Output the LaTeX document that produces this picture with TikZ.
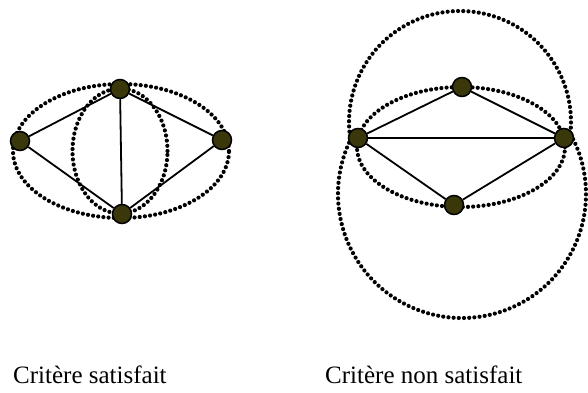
\documentclass[tikz,border=0pt]{standalone}
\usepackage{fontspec}
\setmainfont{Liberation Serif}
\usepackage{tikz}
\usetikzlibrary{positioning}
\definecolor{olivefonce}{RGB}{58,56,10}

\begin{document}
\begin{tikzpicture}[x=1pt, y=1pt,
    sommet/.style={circle, draw=black, line width=1.5pt, fill=olivefonce, inner sep=0pt, minimum size=19pt},
    arete/.style={line width=1.8pt, black},
    cercle/.style={line width=4.2pt, line cap=round, dash pattern=on 0pt off 5.2pt, black},
    legende/.style={anchor=base west, inner sep=0pt, font=\fontsize{25}{30}\selectfont}]
    \useasboundingbox (0,0) rectangle (588,392);
    % critere satisfait
    \draw[cercle] (121,241) ellipse [x radius=108, y radius=67];
    \draw[cercle] (120,241) ellipse [x radius=47.5, y radius=62.5];
    \node[sommet] (g1) at (20,251) {};
    \node[sommet] (h1) at (120,303) {};
    \node[sommet] (b1) at (122,178) {};
    \node[sommet] (d1) at (222,252) {};
    \draw[arete] (g1) -- (h1) -- (d1) -- (b1) -- (g1);
    \draw[arete] (h1) -- (b1);
    \node[legende] (t1) at (13,9) {Critère satisfait};
    % critere non satisfait
    \draw[cercle] (460,270) ++(-8.3:111) arc[start angle=-8.3, end angle=188.3, radius=111];
    \draw[cercle] (462,198) ++(153.2:124) arc[start angle=153.2, end angle=386.8, radius=124];
    \draw[cercle] (461,245) ellipse [x radius=104, y radius=60];
    \node[sommet] (g2) at (358,254) {};
    \node[sommet] (h2) at (462,305) {};
    \node[sommet] (b2) at (454,187) {};
    \node[sommet] (d2) at (564,254) {};
    \draw[arete] (g2) -- (h2) -- (d2) -- (b2) -- (g2);
    \draw[arete] (g2) -- (d2);
    \node[legende] (t2) at (325,9) {Critère non satisfait};
\end{tikzpicture}
\end{document}
